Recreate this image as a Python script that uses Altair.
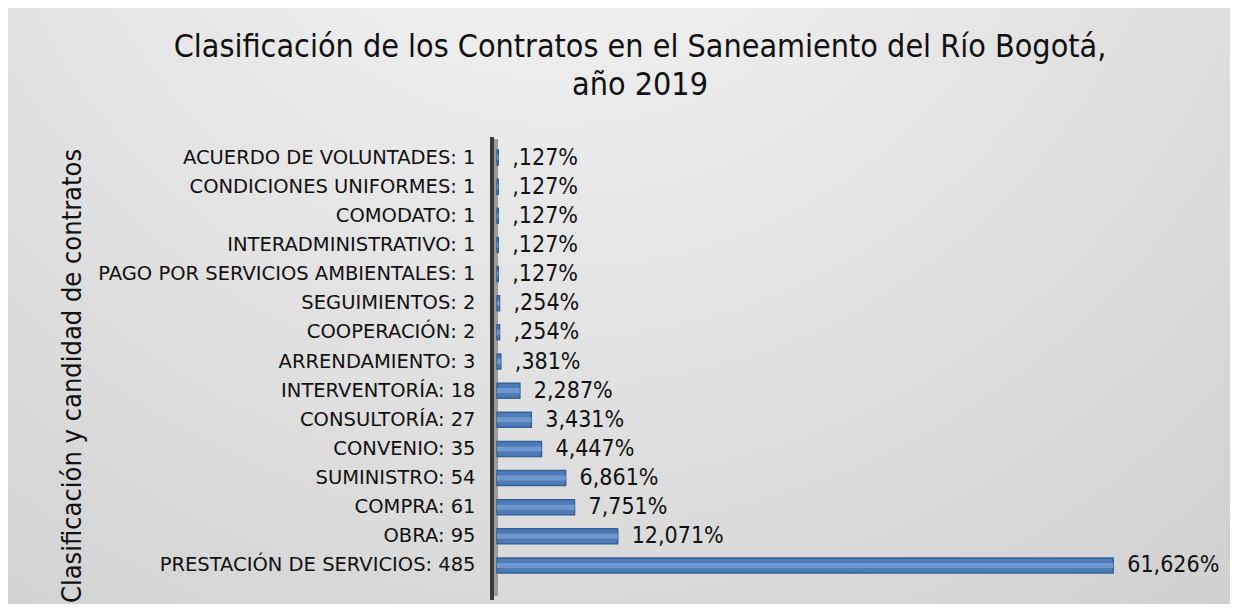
import altair as alt
import pandas as pd

categories = ["ACUERDO DE VOLUNTADES", "CONDICIONES UNIFORMES", "COMODATO",
              "INTERADMINISTRATIVO", "PAGO POR SERVICIOS AMBIENTALES", "SEGUIMIENTOS",
              "COOPERACIÓN", "ARRENDAMIENTO", "INTERVENTORÍA", "CONSULTORÍA",
              "CONVENIO", "SUMINISTRO", "COMPRA", "OBRA", "PRESTACIÓN DE SERVICIOS"]
counts = ["1", "1", "1", "1", "1", "2\u00a0", "2", "3", "18\u00a0", "27", "35", "54", "61", "95", "485"]
percents = [0.127, 0.127, 0.127, 0.127, 0.127, 0.254, 0.254, 0.381,
            2.287, 3.431, 4.447, 6.861, 7.751, 12.071, 61.626]
pct_labels = [",127%", ",127%", ",127%", ",127%", ",127%", ",254%", ",254%", ",381%",
              "2,287%", "3,431%", "4,447%", "6,861%", "7,751%", "12,071%", "61,626%"]

labels = [f"{c}: {n}" for c, n in zip(categories, counts)]
df = pd.DataFrame({"label": labels, "pct": percents, "txt": pct_labels})

W, H = 640, 437
PL, PT, PR, PB = 489, 135, 93, 24
COND = "DejaVu Sans Condensed, DejaVu Sans"
REG = "DejaVu Sans"

y = alt.Y("label:N", sort=labels, title="Clasificación y candidad de contratos",
          axis=alt.Axis(domain=False, ticks=False, labelPadding=22, labelFontSize=19.5,
                        labelLimit=0, labelColor="#111111", labelFont=REG, titleFont=COND,
                        titleFontSize=27, titleFontWeight="normal", titleColor="#111111",
                        titleX=-425, titleY=H / 2 + 14, titleBaseline="middle",
                        titleAngle=-90, titleAlign="center", zindex=1),
          scale=alt.Scale(paddingInner=0.0, paddingOuter=0.0))
x = alt.X("pct:Q", axis=None, scale=alt.Scale(domain=[0, 64]))

base = alt.Chart(df)

bg = base.mark_rect(fill=alt.Gradient(
        gradient="radial", x1=0.45, y1=0.05, r1=0.0, x2=0.45, y2=0.05, r2=0.95,
        stops=[alt.GradientStop(offset=0, color="#f8f8f8"),
               alt.GradientStop(offset=1, color="#cdcdcd")])).encode(
    x=alt.value(-PL), x2=alt.value(W + PR),
    y=alt.value(-PT), y2=alt.value(H + PB))

wall = base.mark_rect(color="#9c9c9c").encode(
    x=alt.value(-4), x2=alt.value(1), y=alt.value(-4), y2=alt.value(H + 16))
wall_edge = base.mark_rule(color="#3a3a3a", strokeWidth=3).encode(
    x=alt.value(-5), y=alt.value(-6), y2=alt.value(H + 20))

bars = base.mark_bar(size=15, color="#4d7bb6", stroke="#36629a", strokeWidth=1.5).encode(
    x=x, y=y)
inner = base.mark_bar(size=5, color="#6e98cd").encode(x=x, y=y)

text = base.mark_text(align="left", baseline="middle", dx=14, fontSize=23,
                      font=COND, color="#111111").encode(x=x, y=y, text="txt:N")

chart = alt.layer(bg, wall, wall_edge, bars, inner, text).properties(
    width=W, height=H,
    padding={"left": PL, "top": PT, "right": PR, "bottom": PB},
    autosize=alt.AutoSizeParams(type="none"),
    background="#d8d8d8",
    title=alt.TitleParams(
        text=["Clasificación de los Contratos en el Saneamiento del Río Bogotá,", "año 2019"],
        fontSize=32, font=COND, fontWeight="normal", color="#111111",
        anchor="middle", frame="group", dx=-177, dy=94, offset=0, baseline="top",
        lineHeight=38, zindex=1),
).configure_view(stroke=None)

chart.save("out.html", embed_options={"renderer": "svg", "actions": False})
